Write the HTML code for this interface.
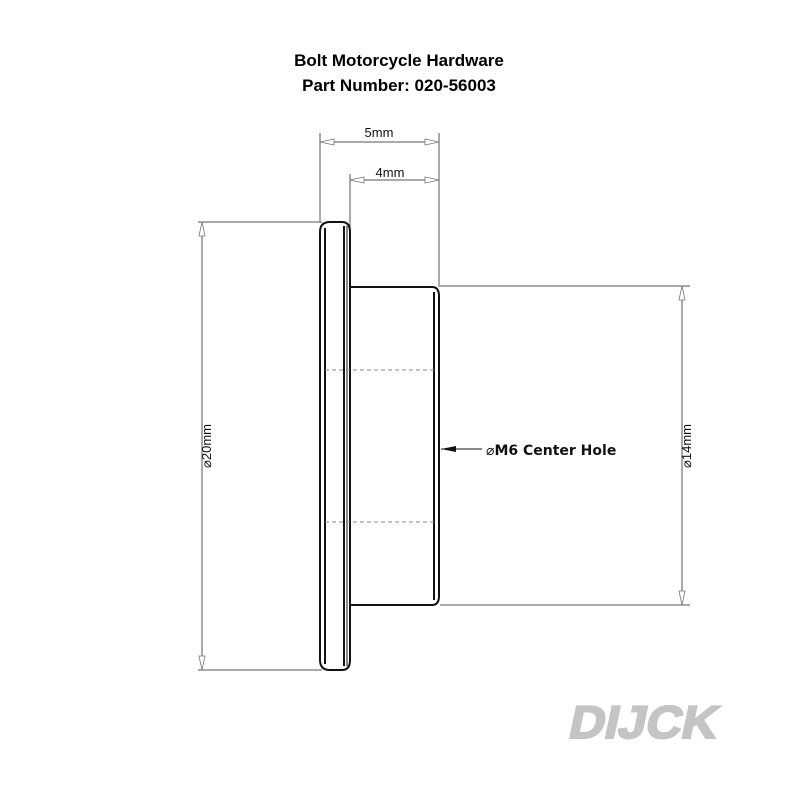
<!DOCTYPE html>
<html><head><style>
html,body{margin:0;padding:0;background:#fff;}
svg{display:block;}
</style></head><body>
<svg width="800" height="800" viewBox="0 0 800 800" xmlns="http://www.w3.org/2000/svg">
<g font-family="'Liberation Sans', Arial, sans-serif" font-weight="bold" font-size="17" text-anchor="middle" fill="#000">
<text x="399" y="66">Bolt Motorcycle Hardware</text>
<text x="399" y="91">Part Number: 020-56003</text>
</g>
<g stroke="#555" stroke-width="1" fill="none">
<line x1="320" y1="133" x2="320" y2="222"/>
<line x1="439" y1="133" x2="439" y2="287"/>
<line x1="350" y1="174" x2="350" y2="287"/>
<line x1="198" y1="222" x2="322" y2="222"/>
<line x1="198" y1="670" x2="322" y2="670"/>
<line x1="440" y1="286" x2="690" y2="286"/>
<line x1="440" y1="605" x2="690" y2="605"/>
<line x1="320" y1="142" x2="439" y2="142"/>
<line x1="350" y1="180" x2="439" y2="180"/>
<line x1="202" y1="222" x2="202" y2="670"/>
<line x1="682" y1="286" x2="682" y2="605"/>
</g>
<g fill="#fff" stroke="#777" stroke-width="0.8">
<polygon points="320,142 334,139 334,145"/>
<polygon points="439,142 425,139 425,145"/>
<polygon points="350,180 364,177 364,183"/>
<polygon points="439,180 425,177 425,183"/>
<polygon points="202,222 199,236 205,236"/>
<polygon points="202,670 199,656 205,656"/>
<polygon points="682,286 679,300 685,300"/>
<polygon points="682,605 679,591 685,591"/>
</g>
<g font-family="'Liberation Sans', Arial, sans-serif" font-size="13" fill="#111" text-anchor="middle">
<text x="379" y="137">5mm</text>
<text x="390" y="177">4mm</text>
<text transform="translate(211,446) rotate(-90)">⌀20mm</text>
<text transform="translate(691,446) rotate(-90)">⌀14mm</text>
</g>
<g stroke="#111" stroke-width="2" fill="none">
<path d="M320,232 Q320,222 330,222 L342,222 Q350,222 350,232 L350,660 Q350,670 342,670 L330,670 Q320,670 320,660 Z"/>
<line x1="325" y1="228" x2="325" y2="664"/>
<line x1="344" y1="226" x2="344" y2="666"/>
<path d="M350,287 L432,287 Q439,287 439,296 L439,596 Q439,605 432,605 L350,605"/>
<line x1="434" y1="292" x2="434" y2="600"/>
</g>
<line x1="347" y1="226" x2="347" y2="666" stroke="#111" stroke-width="1"/>
<g stroke="#888" stroke-width="1" stroke-dasharray="4,3">
<line x1="325" y1="370" x2="434" y2="370"/>
<line x1="325" y1="522" x2="434" y2="522"/>
</g>
<line x1="441" y1="449" x2="482" y2="449" stroke="#111" stroke-width="1"/>
<polygon points="441,449 456,446 456,452" fill="#111"/>
<text x="486" y="455" font-family="'DejaVu Sans', sans-serif" font-size="14" fill="#111">⌀<tspan font-weight="bold">M6 Center Hole</tspan></text>
<g transform="translate(0,738) skewX(-12)">
<text x="567" y="0" font-family="'Liberation Sans', Arial, sans-serif" font-weight="bold" font-size="46" fill="#c4c4c4" stroke="#c4c4c4" stroke-width="2" textLength="148" lengthAdjust="spacingAndGlyphs">DIJCK</text>
</g>
</svg>
</body></html>
